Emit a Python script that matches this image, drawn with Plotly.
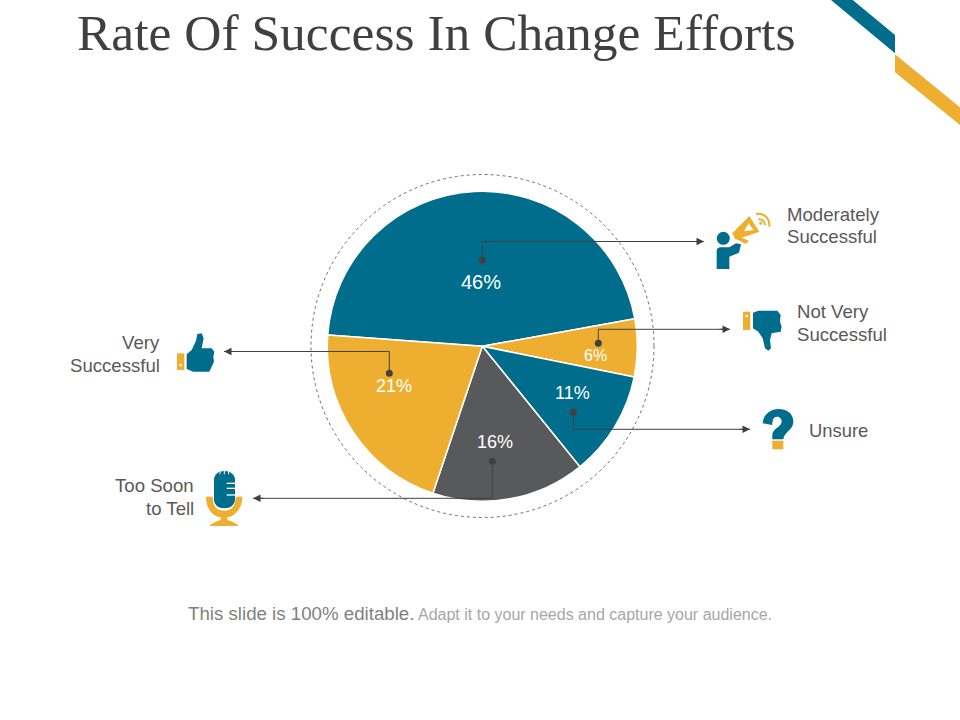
import re
import plotly.graph_objects as go

# slide is 960x720, shapes are worked out in pixels and converted to paper coords
W = 960
H = 720

slice_names = ["Moderately Successful", "Not Very Successful", "Unsure", "Too Soon to Tell", "Very Successful"]
slice_values = [46, 6, 11, 16, 21]
slice_colors = ["#006D8C", "#EEAF30", "#006D8C", "#58595B", "#EEAF30"]

TEAL = "#006D8C"
GOLD = "#EEAF30"
DARK = "#404040"
TEXT = "#595959"
SANS = "Liberation Sans"

cx, cy, radius = 482.3, 346.3, 155


def px(x):
    return x / W


def py(y):
    return 1 - y / H


def to_paper(path, ox=0, oy=0, scale=1.0):
    # "x,y" pairs in a path string -> paper coords
    def conv(m):
        x = ox + float(m.group(1)) * scale
        y = oy + float(m.group(2)) * scale
        return f"{px(x):.5f},{py(y):.5f}"
    return re.sub(r"(-?\d+\.?\d*),(-?\d+\.?\d*)", conv, path)


fig = go.Figure()
fig.add_trace(go.Pie(
    labels=slice_names,
    values=slice_values,
    sort=False,
    direction="clockwise",
    rotation=274.2,
    textinfo="none",
    hoverinfo="label+percent",
    showlegend=False,
    marker=dict(colors=slice_colors, line=dict(color="white", width=1.5)),
    domain=dict(x=[px(cx - radius), px(cx + radius)], y=[py(cy + radius), py(cy - radius)]),
))

shapes = []


def add_circle(x, y, r, fill=None, line=None, dash=None, width=1):
    shapes.append(dict(
        type="circle", xref="paper", yref="paper",
        x0=px(x - r), x1=px(x + r), y0=py(y + r), y1=py(y - r),
        fillcolor=fill if fill else "rgba(0,0,0,0)",
        line=dict(color=line, width=width, dash=dash) if line else dict(width=0),
    ))


def add_path(path, fill=None, line=None, width=1, ox=0, oy=0, scale=1.0):
    shapes.append(dict(
        type="path", xref="paper", yref="paper", path=to_paper(path, ox, oy, scale),
        fillcolor=fill if fill else "rgba(0,0,0,0)",
        line=dict(color=line, width=width) if line else dict(width=0),
    ))


# dashed ring round the pie
add_circle(482.5, 346, 171.5, line="#6E6E6E", dash="dot", width=1)

# corner ribbons
add_path("M831,0 L852.7,0 L895,35 L895,53.3 Z", fill=TEAL)
add_path("M895,54.3 L960,107.3 L960,125 L895,72.3 Z", fill=GOLD)

# leaders: dot, elbow, arrow tip
leaders = [
    (482.3, 260.3, 241.5, 704),
    (598.3, 343.3, 329.3, 730),
    (573.3, 412.3, 429.3, 750),
    (492.3, 461.3, 498.3, 253),
    (389.3, 373.3, 351.5, 224),
]
annotations = []
for dx, dy, ey, tip in leaders:
    add_path(f"M{dx},{dy} L{dx},{ey} L{tip},{ey}", line=DARK, width=1)
    add_circle(dx, dy, 3.5, fill=DARK)
    side = -1 if tip > dx else 1
    annotations.append(dict(
        xref="paper", yref="paper", x=px(tip), y=py(ey), text="", showarrow=True,
        ax=side * 12, ay=0, arrowhead=2, arrowsize=1.5, arrowwidth=1, arrowcolor=DARK,
    ))

# megaphone man, traced in 3x crop coords
z = dict(ox=690, oy=190, scale=1 / 3)
add_circle(723.3, 238.3, 6.5, fill=TEAL)
add_path("M80,237 L80,182 C80,176 85,172 92,172 L118,172 L138,160 L153,163 L147,188 L118,200 L118,237 Z", fill=TEAL, **z)
add_path("M127,130 L178,78 L208,125 L155,143 L177,152 L167,162 L145,150 L135,147 Z", fill=GOLD, **z)
add_path("M162,124 L176,100 L190,120 Z", fill="white", **z)
add_path("M198,72 C222,68 240,85 238,110", line=GOLD, width=2, **z)
add_path("M205,88 C216,87 226,95 224,106", line=GOLD, width=2, **z)
add_circle(690 + 212 / 3, 190 + 100 / 3, 1.5, fill=GOLD)

# thumb down
add_path("M159,365 L181,365 L181,420 L159,420 Z", fill=GOLD, **z)
add_circle(690 + 170 / 3, 190 + 378 / 3, 1.3, fill="white")
add_path("M189,368 L205,362 L262,362 L272,375 L270,395 L275,410 L272,425 L245,430 L240,450 L243,475 L235,482 L225,475 L218,445 L205,425 L189,415 Z", fill=TEAL, **z)

# thumb up and mic
z = dict(ox=60, oy=320, scale=1 / 3)
add_path("M351,100 L373,100 L373,150 L351,150 Z", fill=GOLD, **z)
add_circle(60 + 362 / 3, 320 + 135 / 3, 1.3, fill="white")
add_path("M380,103 L395,90 L408,62 L412,42 L425,40 L431,55 L425,85 L455,85 L463,95 L460,110 L462,125 L455,140 L448,155 L400,155 L380,147 Z", fill=TEAL, **z)
add_path("M438,530 L458,530 C458,560 472,572 492,572 C512,572 527,560 527,530 L547,530 C547,568 522,590 502,592 L502,600 C515,603 530,610 535,618 L448,618 C455,610 470,603 482,600 L482,592 C460,590 438,568 438,530 Z", fill=GOLD, **z)
add_path("M462,480 C462,463 475,453 493,453 C511,453 525,463 525,480 L525,538 C525,555 511,565 493,565 C475,565 462,555 462,538 Z", fill=TEAL, **z)
for y in [490, 505, 525]:
    add_path(f"M500,{y} L525,{y}", line="white", width=1.3, **z)
for x in [480, 493, 506]:
    add_path(f"M{x},453 L{x},463", line="white", width=1, **z)

# question mark
z = dict(ox=740, oy=395, scale=1 / 3)
add_path("M68,85 C70,55 95,42 115,42 C145,42 160,60 160,80 C160,105 132,110 130,133 L97,133 L97,120 C97,100 125,95 125,80 C125,70 118,65 112,65 C100,65 97,75 97,90 Z", fill=TEAL, **z)
add_path("M97,137 L130,137 L130,163 L97,163 Z", fill=GOLD, **z)


def add_text(x, y, text, size, color=TEXT, anchor="left", family=SANS):
    annotations.append(dict(
        xref="paper", yref="paper", x=px(x), y=py(y), text=text, showarrow=False,
        xanchor=anchor, yanchor="middle", borderpad=0,
        font=dict(family=family, size=size, color=color),
    ))


add_text(76, 33, "Rate Of Success In Change Efforts", 51.5, color=DARK, family="Liberation Serif")

# slice percentages
pct_pos = [(481.3, 281.5, 20), (595.5, 355, 16), (572, 393.5, 18), (494.7, 442, 18), (394, 386, 18)]
for (x, y, size), v in zip(pct_pos, slice_values):
    add_text(x, y, f"{v}%", size, color="white", anchor="center")

# callout labels
add_text(786.3, 214, "Moderately", 18.6)
add_text(786.3, 237, "Successful", 18.6)
add_text(796.3, 311, "Not Very", 18.6)
add_text(796.3, 334, "Successful", 18.6)
add_text(807.5, 430.5, "Unsure", 18.4)
add_text(160.7, 342, "Very", 18.6, anchor="right")
add_text(160.7, 365, "Successful", 18.6, anchor="right")
add_text(194.7, 485.5, "Too Soon", 18.6, anchor="right")
add_text(194.7, 508.5, "to Tell", 18.6, anchor="right")

# footer
add_text(186.5, 613, "This slide is 100% editable.", 18.7, color="#7F7F7F")
add_text(416.5, 614.5, "Adapt it to your needs and capture your audience.", 16, color="#A6A6A6")

fig.update_layout(
    width=W, height=H,
    margin=dict(l=0, r=0, t=0, b=0),
    paper_bgcolor="white",
    plot_bgcolor="white",
    shapes=shapes,
    annotations=annotations,
)
# browser default body margin would push the slide 8px in
fig.write_html("out.html", config=dict(displayModeBar=False), post_script="document.body.style.margin='0';")
